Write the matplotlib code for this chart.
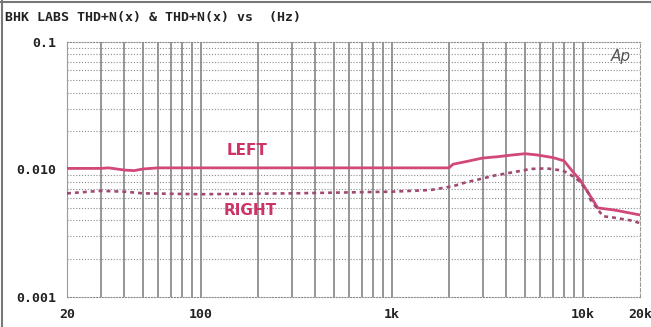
import numpy as np
import matplotlib
matplotlib.use("Agg")
from matplotlib import pyplot as plt
from matplotlib.ticker import FixedLocator, NullFormatter, NullLocator

# values (Hz, THD+N ratio)
left_freq = [20, 30, 33, 40, 45, 50, 60, 100, 1000, 2000, 2100, 2500, 3000, 3600,
             4300, 5000, 5800, 7000, 8000, 8900, 9700, 11300, 12000, 14800, 20000]
left_thd = [0.0102, 0.0102, 0.0103, 0.0099, 0.0098, 0.0101, 0.0103, 0.0103, 0.0103,
            0.0103, 0.0110, 0.0116, 0.0123, 0.0126, 0.0130, 0.0133, 0.0130, 0.0124,
            0.0117, 0.0096, 0.0083, 0.0058, 0.0050, 0.0048, 0.0044]

right_freq = [20, 30, 40, 50, 100, 300, 1000, 1600, 2100, 2500, 2900, 3500, 4300,
              5000, 5300, 6500, 7900, 9100, 9700, 10700, 11000, 12800, 14500, 17700, 20000]
right_thd = [0.0065, 0.0068, 0.0067, 0.0065, 0.0064, 0.0065, 0.0067, 0.0069, 0.0074,
             0.0080, 0.0084, 0.0090, 0.0095, 0.0099, 0.0101, 0.0102, 0.0098, 0.0087,
             0.0080, 0.0066, 0.0058, 0.0043, 0.0042, 0.0040, 0.0038]

x_ticks = [20, 100, 1000, 10000, 20000]
x_labels = ["20", "100", "1k", "10k", "20k"]
y_ticks = [0.001, 0.01, 0.1]
y_labels = ["0.001", "0.010", "0.1"]

mono = "DejaVu Sans Mono"
pink = "#d2487a"
dot_col = "#a04a72"

fig = plt.figure(figsize=(6.51, 3.27), dpi=100)
ax = fig.add_axes([67 / 651, 1 - 297 / 327, 573 / 651, 255 / 327])

ax.set_xscale("log")
ax.set_yscale("log")
ax.set_xlim(20, 20000)
ax.set_ylim(0.001, 0.1)

# grid: solid verticals, dotted horizontals
vlines = [m * 10 ** e for e in range(1, 5) for m in range(1, 10)]
vlines = [v for v in vlines if 20 < v < 20000]
for v in vlines:
    ax.axvline(v, color="#8e8e8e", lw=1.3, zorder=1)
hlines = [m * 10 ** e for e in (-3, -2) for m in range(2, 10)]
for h in hlines:
    ax.axhline(h, color="#8c8c8c", lw=0.8, ls=(0, (1, 1.6)), zorder=1)

ax.plot(left_freq, left_thd, color=pink, lw=2.0, zorder=3)
ax.plot(right_freq, right_thd, color=dot_col, lw=1.9, ls=(0, (1.5, 1.5)), zorder=3)

ax.text(175, 0.0142, "LEFT", color="#cc3366", fontsize=11, fontweight="bold",
        ha="center", va="center", zorder=4)
ax.text(182, 0.00473, "RIGHT", color="#cc3366", fontsize=11, fontweight="bold",
        ha="center", va="center", zorder=4)

ax.xaxis.set_major_locator(FixedLocator(x_ticks))
ax.xaxis.set_minor_locator(NullLocator())
ax.set_xticklabels(x_labels)
ax.yaxis.set_major_locator(FixedLocator(y_ticks))
ax.yaxis.set_minor_locator(NullLocator())
ax.set_yticklabels(y_labels)
ax.tick_params(length=0, labelsize=9.5, pad=8)
for lab in ax.get_xticklabels() + ax.get_yticklabels():
    lab.set_family(mono)
    lab.set_fontweight("bold")
    lab.set_color("#222222")

for s in ("left",):
    ax.spines[s].set_color("#9a9a9a")
for s in ("top", "bottom"):
    ax.spines[s].set_linestyle((0, (1, 1.6)))
    ax.spines[s].set_color("#8c8c8c")
ax.spines["right"].set_linestyle((0, (3, 2)))
ax.spines["right"].set_color("#9a9a9a")

fig.text(5 / 651, 1 - 17 / 327, "BHK LABS THD+N(x) & THD+N(x) vs  (Hz)",
         family=mono, fontweight="bold", fontsize=9.5, color="#222222",
         ha="left", va="center")
fig.text(621 / 651, 1 - 57 / 327, "Ap", fontsize=11, style="italic",
         color="#555555", ha="center", va="center")

# scanned page frame
fig.add_artist(plt.Line2D([0.003, 0.003], [0, 1], color="#777777", lw=1.5))
fig.add_artist(plt.Line2D([0, 1], [0.994, 0.994], color="#777777", lw=1.5))

fig.savefig("out.png", dpi=100)
